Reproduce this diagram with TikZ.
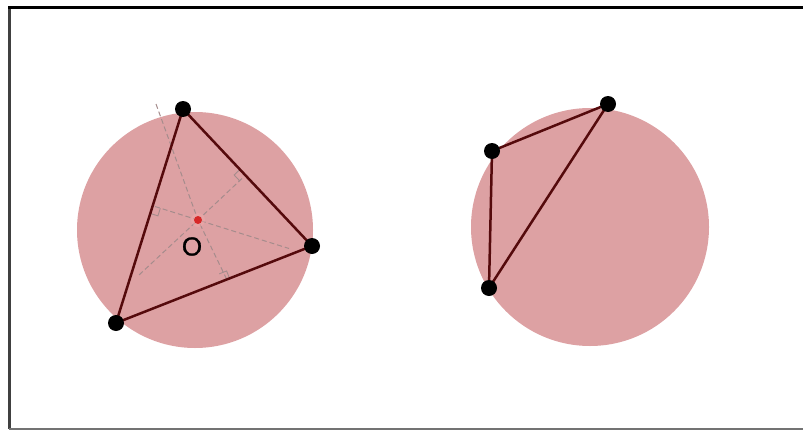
\documentclass[tikz,border=0pt]{standalone}
\usepackage{fontspec}
\setmainfont{Liberation Sans}
\usetikzlibrary{calc}
\definecolor{disk}{RGB}{221,161,163}
\definecolor{edge}{RGB}{85,10,12}
\definecolor{bis}{RGB}{165,140,140}
\definecolor{ctr}{RGB}{215,40,40}
\tikzset{
  vdot/.style={circle,fill=black,inner sep=0pt,minimum size=16pt},
  tri/.style={draw=edge,line width=2.5pt,line join=round},
  bisect/.style={draw=bis,line width=1pt,dash pattern=on 5pt off 3pt},
  rmark/.style={draw=bis,line width=0.9pt},
  disc/.style={fill=disk}
}
\begin{document}
\begin{tikzpicture}[x=1pt,y=-1pt]
\useasboundingbox (0,0) rectangle (803,431);
% frame
\draw[line width=3pt,color=black!75] (9,7) -- (9,429);
\draw[line width=3pt,color=black] (8,7) -- (803,7);
\draw[line width=2.5pt,color=black!55] (9,429) -- (803,429);
% discs
\fill[disc] (195,230) circle (118);
\fill[disc] (590,227) circle (119);
% positions
\coordinate (A) at (183,109);
\coordinate (B) at (312,246);
\coordinate (C) at (116,323);
\coordinate (O) at (198,220);
\coordinate (D) at (608,104);
\coordinate (E) at (492,151);
\coordinate (F) at (489,288);
% perpendicular bisectors
\coordinate (l1a) at (156,104);
\coordinate (l1b) at (228,282);
\coordinate (l2a) at (242,178.5);
\coordinate (l2b) at (139,275);
\coordinate (l3a) at (155,206.5);
\coordinate (l3b) at (289,248.5);
\draw[bisect] (l1a) -- (O) -- (l1b);
\draw[bisect] (l2a) -- (O) -- (l2b);
\draw[bisect] (l3a) -- (O) -- (l3b);
% right-angle marks
\coordinate (fAB) at ($(A)!(O)!(B)$);
\coordinate (fBC) at ($(B)!(O)!(C)$);
\coordinate (fCA) at ($(C)!(O)!(A)$);
\foreach \f/\v in {fAB/A,fBC/B,fCA/C}{
  \coordinate (p1) at ($(\f)!8pt!(\v)$);
  \coordinate (p2) at ($(\f)!8pt!(O)$);
  \draw[rmark] (p1) -- ($(p1)+(p2)-(\f)$) -- (p2);
}
% triangles
\draw[tri] (A) -- (B) -- (C) -- cycle;
\draw[tri] (D) -- (E) -- (F) -- cycle;
% vertices
\foreach \p in {A,B,C,D,E,F}{ \node[vdot] (n\p) at (\p) {}; }
% centre
\fill[ctr!40,opacity=0.5] (O) circle (7);
\node[circle,fill=ctr,inner sep=0pt,minimum size=8pt] (nO) at (O) {};
\node[font=\fontsize{26}{26}\selectfont,inner sep=0pt,text=black] (lO) at (192,246.5) {\addfontfeature{FakeBold=1}O};
\end{tikzpicture}
\end{document}
